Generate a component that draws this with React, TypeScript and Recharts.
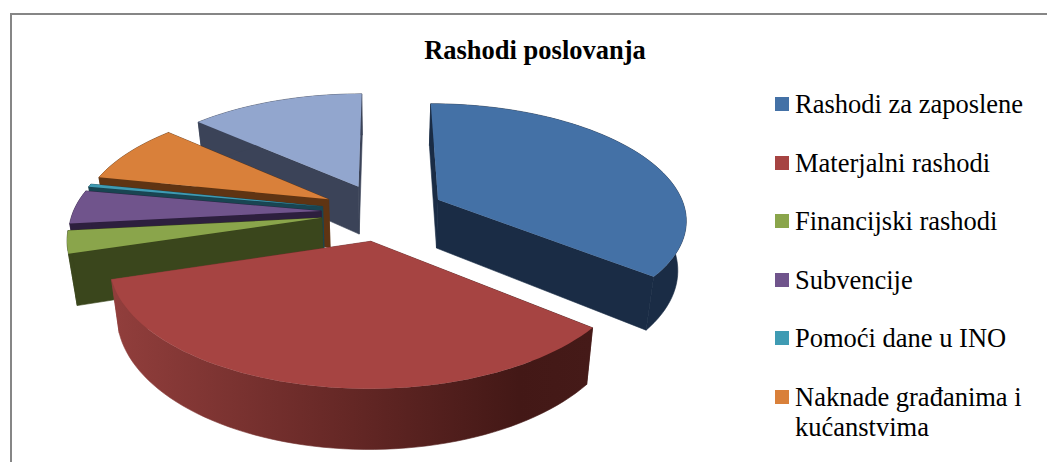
import { Legend, Pie, PieChart } from 'recharts'

// last slice has no visible legend row, the list is cut off at the bottom of the picture
const categories = [
  'Rashodi za zaposlene',
  'Materjalni rashodi',
  'Financijski rashodi',
  'Subvencije',
  'Pomoći dane u INO',
  'Naknade građanima i kućanstvima',
  '',
]
const values = [35.8, 34.4, 3.05, 4.6, 0.4, 8.3, 13.4]
const topColors = ['#4471A6', '#A64442', '#8AA54B', '#70548C', '#3F9BB3', '#D9803A', '#92A6CE']
const wallColors = ['#1A2C45', 'url(#redWall)', '#3A461C', '#2D1F3E', '#194552', '#5F3413', '#3B4358']

// drawn back to front, so the pie runs counter-clockwise from the last category
const slices = categories
  .map((name, i) => ({ name, value: values[i], fill: topColors[i], wall: wallColors[i] }))
  .reverse()

const RADIUS = 248
const TILT = 0.4617
const PERSPECTIVE = 0.155
const DEPTH = 49
const EXPLODE = 0.25
const BOTTOM_SCALE = 0.972

const RAD = Math.PI / 180

function SliceShape(props: any) {
  const { cx, cy, startAngle, endAngle, midAngle, fill, wall, outerRadius, index } = props
  const color = wall ?? slices[index]?.wall
  const m = midAngle * RAD
  const u0 = Math.cos(m) * EXPLODE
  const v0 = -Math.sin(m) * EXPLODE

  const project = (u: number, v: number, low: boolean) => {
    const s = 1 / (1 - PERSPECTIVE * v)
    const k = low ? BOTTOM_SCALE : 1
    return [cx + u * outerRadius * s * k, cy + v * outerRadius * TILT * s + (low ? DEPTH * s : 0)]
  }
  const rim = (low: boolean) => {
    const pts: number[][] = []
    const steps = Math.max(4, Math.ceil(Math.abs(endAngle - startAngle) / 2))
    for (let i = 0; i <= steps; i++) {
      const a = (startAngle + ((endAngle - startAngle) * i) / steps) * RAD
      pts.push(project(u0 + Math.cos(a), v0 - Math.sin(a), low))
    }
    return pts
  }
  const d = (pts: number[][]) =>
    'M' + pts.map((p) => `${p[0].toFixed(2)},${p[1].toFixed(2)}`).join('L') + 'Z'

  const top = rim(false)
  const low = rim(true)
  const apexTop = project(u0, v0, false)
  const apexLow = project(u0, v0, true)

  return (
    <g>
      <path d={d([apexTop, top[0], low[0], apexLow])} fill={color} stroke={color} strokeWidth={0.6} />
      <path d={d([apexTop, top[top.length - 1], low[low.length - 1], apexLow])} fill={color} stroke={color} strokeWidth={0.6} />
      <path d={d([...top, ...[...low].reverse()])} fill={color} stroke={color} strokeWidth={0.6} />
      <path d={d([apexTop, ...top])} fill={fill} />
    </g>
  )
}

function LegendRows() {
  return (
    <div style={{ fontFamily: '"Liberation Serif", serif', fontSize: 26.5, lineHeight: '30px', color: '#000' }}>
      {categories.filter(Boolean).map((name, i) => (
        <div key={name} style={{ display: 'flex', height: 58.6, alignItems: 'flex-start' }}>
          <span style={{ width: 14, height: 14, marginTop: 8, marginRight: 6, flex: 'none', background: topColors[i] }} />
          <span>{name}</span>
        </div>
      ))}
    </div>
  )
}

export default function App() {
  return (
    <div style={{ position: 'absolute', left: 0, top: 0, width: 1047, height: 462, overflow: 'hidden', background: '#fff' }}>
      <div style={{ position: 'absolute', left: 10, top: 13, width: 1060, height: 460, border: '2px solid #868686' }} />
      <PieChart width={1047} height={462} margin={{ top: 0, right: 0, bottom: 0, left: 0 }}>
        <defs>
          <linearGradient id="redWall" gradientUnits="userSpaceOnUse" x1="115" y1="0" x2="590" y2="0">
            <stop offset="0" stopColor="#913E3C" />
            <stop offset="0.5" stopColor="#642725" />
            <stop offset="0.85" stopColor="#431816" />
            <stop offset="1" stopColor="#451A18" />
          </linearGradient>
        </defs>
        <text x={535} y={59} textAnchor="middle" fontFamily='"Liberation Serif", serif' fontWeight="bold" fontSize={26.5} fill="#000">
          Rashodi poslovanja
        </text>
        <Pie
          data={slices}
          dataKey="value"
          nameKey="name"
          cx={383}
          cy={212}
          outerRadius={RADIUS}
          startAngle={90}
          endAngle={450}
          stroke="none"
          isAnimationActive={false}
          shape={SliceShape}
        />
        <Legend content={LegendRows} wrapperStyle={{ left: 775, top: 89, width: 262, bottom: 'auto' }} />
      </PieChart>
    </div>
  )
}
